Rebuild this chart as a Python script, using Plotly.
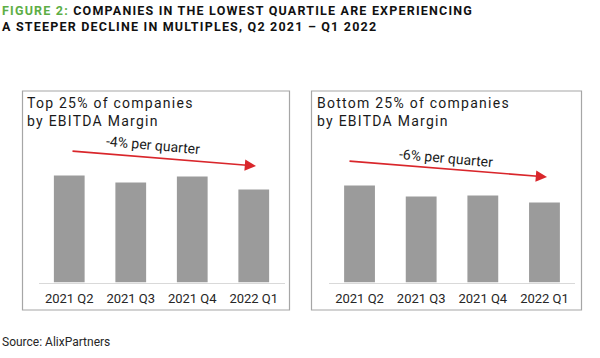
import plotly.graph_objects as go
from plotly.subplots import make_subplots

categories = ["2021 Q2", "2021 Q3", "2021 Q4", "2022 Q1"]
top_values = [10.7, 10.0, 10.6, 9.3]
bottom_values = [9.7, 8.6, 8.7, 8.0]
panel_titles = ["Top 25% of companies<br>by EBITDA Margin", "Bottom 25% of companies<br>by EBITDA Margin"]
trend_labels = ["-4% per quarter", "-6% per quarter"]
title_text = ("<span style='color:#5DAE45'>FIGURE 2:</span> COMPANIES IN THE LOWEST QUARTILE ARE EXPERIENCING"
              "<br>A STEEPER DECLINE IN MULTIPLES, Q2 2021 \u2013 Q1 2022")
source_text = "Source: AlixPartners"

W, H = 600, 358
def px(x): return x / W
def py(y): return 1 - y / H

BAR = "#9b9b9b"
fig = make_subplots(rows=1, cols=2)
fig.add_trace(go.Bar(x=categories, y=top_values, marker=dict(color=BAR, line=dict(width=0)), hoverinfo="skip"), row=1, col=1)
fig.add_trace(go.Bar(x=categories, y=bottom_values, marker=dict(color=BAR, line=dict(width=0)), hoverinfo="skip"), row=1, col=2)

ydom = [py(282.5), py(132.5)]
axis_common = dict(showgrid=False, zeroline=False, showline=True, linecolor="#d9d9d9", linewidth=1,
                   ticks="", tickfont=dict(family="Roboto", size=13, color="#262626"), ticklabelstandoff=4)
fig.update_layout(
    xaxis=dict(domain=[px(38.5), px(284.5)], anchor="y", **axis_common),
    xaxis2=dict(domain=[px(328.7), px(575.3)], anchor="y2", **axis_common),
    yaxis=dict(domain=ydom, range=[0, 15], visible=False, anchor="x"),
    yaxis2=dict(domain=ydom, range=[0, 15], visible=False, anchor="x2"),
    bargap=0.5,
    showlegend=False,
    width=W, height=H,
    margin=dict(l=0, r=0, t=0, b=0),
    paper_bgcolor="white", plot_bgcolor="white",
)

# panel boxes
for x0, x1 in [(22.5, 289.5), (311.5, 581.5)]:
    fig.add_shape(type="rect", xref="paper", yref="paper", x0=px(x0), x1=px(x1), y0=py(310), y1=py(91),
                  line=dict(color="#a6a6a6", width=1.2), fillcolor="rgba(0,0,0,0)", layer="below")

# panel titles
LS = "<span style='letter-spacing:1.25px'>"
for xl, t in [(25, panel_titles[0]), (315, panel_titles[1])]:
    fig.add_annotation(xref="paper", yref="paper", x=px(xl), y=py(93), xanchor="left", yanchor="top",
                       text=LS + t.replace("<br>", "</span><br>" + LS) + "</span>",
                       showarrow=False, align="left",
                       font=dict(family="Roboto", size=14, color="#1a1a1a"))

# arrows
RED = "#d9262b"
for (x0, y0, x1, y1) in [(71, 151, 256, 166), (348, 161, 547, 177)]:
    fig.add_annotation(xref="paper", yref="paper", x=px(x1), y=py(y1), ax=x0 - x1, ay=y0 - y1,
                       axref="pixel", ayref="pixel", text="", showarrow=True,
                       arrowhead=2, arrowsize=1.4, arrowwidth=1.6, arrowcolor=RED, standoff=0)

for (xc, yc, t) in [(153, 145, trend_labels[0]), (446, 158, trend_labels[1])]:
    fig.add_annotation(xref="paper", yref="paper", x=px(xc), y=py(yc), text=t, showarrow=False,
                       xanchor="center", yanchor="middle",
                       textangle=5, font=dict(family="Roboto", size=14, color="#1a1a1a"))

# title
TS = "<span style='letter-spacing:1.2px'>"
fig.add_annotation(xref="paper", yref="paper", x=0, y=1, xanchor="left", yanchor="top", yshift=-1,
                   text="<b>" + TS + title_text.replace("<br>", "</span><br>" + TS) + "</span></b>",
                   showarrow=False, align="left",
                   font=dict(family="Roboto", size=12.5, color="#111111"))

fig.add_annotation(xref="paper", yref="paper", x=0, y=py(342), xanchor="left", yanchor="middle",
                   text=source_text, showarrow=False,
                   font=dict(family="Roboto", size=12, color="#262626"))

fig.write_html("out.html", config={"displayModeBar": False},
               post_script="document.body.style.margin='0';document.body.style.padding='0';")
